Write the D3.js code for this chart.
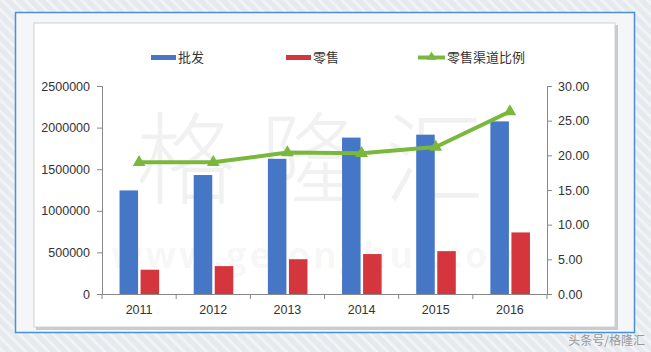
<!DOCTYPE html>
<html><head><meta charset="utf-8">
<script src="https://cdn.jsdelivr.net/npm/d3@7/dist/d3.min.js"></script>
<style>body{margin:0;background:#e8ecef;}svg{display:block;}</style>
</head><body>
<svg id="c" width="651" height="352"></svg>
<script>
const years = ["2011","2012","2013","2014","2015","2016"];
const wholesale = [1245000, 1430000, 1625000, 1880000, 1915000, 2075000];
const retail = [292000, 335000, 418000, 480000, 515000, 740000];
const ratio = [19.0, 19.0, 20.4, 20.3, 21.2, 26.3];
const leftTicks = [0, 500000, 1000000, 1500000, 2000000, 2500000];
const rightTicks = [0, 5, 10, 15, 20, 25, 30];
const seriesNames = ["批发", "零售", "零售渠道比例"];
const colors = {blue:"#4677c6", red:"#d5363d", green:"#7ab83c"};

const svg = d3.select("#c");
const defs = svg.append("defs");
const pat = defs.append("pattern").attr("id","stripes").attr("width",8).attr("height",8)
  .attr("patternUnits","userSpaceOnUse").attr("patternTransform","rotate(-45)");
pat.append("rect").attr("width",8).attr("height",8).attr("fill","#e6eaee");
pat.append("rect").attr("width",3).attr("height",8).attr("fill","#f1f4f6");
svg.append("rect").attr("width",651).attr("height",352).attr("fill","url(#stripes)");

// outer blue frame
svg.append("rect").attr("x",15.5).attr("y",12.5).attr("width",619).attr("height",320)
  .attr("fill","#f4f6f8").attr("stroke","#4a90d9").attr("stroke-width",1.5);
// white panel with shadow border
svg.append("rect").attr("x",36).attr("y",25).attr("width",582).attr("height",305).attr("fill","#c9cbcd");
svg.append("rect").attr("x",34).attr("y",23).attr("width",581).attr("height",304)
  .attr("fill","#ffffff").attr("stroke","#d0d0d0").attr("stroke-width",1);

// watermark
svg.append("text").attr("x",322).attr("y",196).attr("text-anchor","middle")
  .attr("font-family","Noto Sans CJK SC").attr("font-size",100).attr("font-weight","300")
  .attr("fill","#000").attr("fill-opacity",0.055).attr("letter-spacing",24).text("格隆汇");
svg.append("text").attr("x",320).attr("y",268).attr("text-anchor","middle")
  .attr("font-family","Open Sans, sans-serif").attr("font-size",36).attr("font-weight","bold")
  .attr("fill","#000").attr("fill-opacity",0.05).attr("letter-spacing",3).text("www.gelonghui.com");

const x = d3.scaleBand().domain(years).range([102, 547]);
const yL = d3.scaleLinear().domain([0, 2500000]).range([294, 86]);
const yR = d3.scaleLinear().domain([0, 30]).range([294, 86]);

const fontNum = "Liberation Sans, Arial, sans-serif";

// bars
const bw = x.bandwidth() * 0.25;
const g = svg.append("g");
g.selectAll(".bw").data(years).join("rect")
  .attr("x", d => x(d) + x.bandwidth()/2 - bw - 1)
  .attr("y", (d,i) => yL(wholesale[i]))
  .attr("width", bw).attr("height", (d,i) => yL(0) - yL(wholesale[i]))
  .attr("fill", colors.blue);
g.selectAll(".br").data(years).join("rect")
  .attr("x", d => x(d) + x.bandwidth()/2 + 1.5)
  .attr("y", (d,i) => yL(retail[i]))
  .attr("width", bw).attr("height", (d,i) => yL(0) - yL(retail[i]))
  .attr("fill", colors.red);

// axes
const axL = d3.axisLeft(yL).tickValues(leftTicks).tickFormat(d3.format("d")).tickSize(5).tickPadding(7);
const aL = svg.append("g").attr("transform","translate(102,0)").call(axL);
const axR = d3.axisRight(yR).tickValues(rightTicks).tickFormat(d3.format(".2f")).tickSize(5).tickPadding(6);
const aR = svg.append("g").attr("transform","translate(547,0)").call(axR);
const axB = d3.axisBottom(x).tickSize(0).tickPadding(11);
const aB = svg.append("g").attr("transform","translate(0,294)").call(axB);
// x ticks between categories
svg.append("g").selectAll("line").data(years.concat(["end"])).join("line")
  .attr("x1",(d,i)=> 102 + i*x.bandwidth()).attr("x2",(d,i)=> 102 + i*x.bandwidth())
  .attr("y1",294).attr("y2",299).attr("stroke","#888");
[aL,aR,aB].forEach(a=>{
  a.selectAll("path").attr("stroke","#888");
  a.selectAll("line").attr("stroke","#888");
  a.selectAll("text").attr("font-family",fontNum).attr("font-size",12.5).attr("fill","#333");
});

// line
const line = d3.line().x((d,i)=> x(years[i]) + x.bandwidth()/2).y(d => yR(d));
svg.append("path").datum(ratio).attr("d", line).attr("fill","none")
  .attr("stroke", colors.green).attr("stroke-width",4).attr("stroke-linejoin","round");
const tri = d3.symbol().type(d3.symbolTriangle).size(70);
svg.selectAll(".tri").data(ratio).join("path")
  .attr("transform",(d,i)=>`translate(${x(years[i]) + x.bandwidth()/2},${yR(d)})`)
  .attr("d", tri).attr("fill", colors.green);

// legend
const lg = svg.append("g").attr("font-family","Noto Sans CJK SC").attr("font-size",13).attr("fill","#333");
const legX = [151, 286, 418];
lg.append("rect").attr("x",legX[0]).attr("y",55).attr("width",25).attr("height",5).attr("fill",colors.blue);
lg.append("rect").attr("x",legX[1]).attr("y",55).attr("width",25).attr("height",5).attr("fill",colors.red);
lg.append("line").attr("x1",legX[2]).attr("x2",legX[2]+27).attr("y1",57.5).attr("y2",57.5)
  .attr("stroke",colors.green).attr("stroke-width",4);
lg.append("path").attr("transform",`translate(${legX[2]+13.5},57)`).attr("d",d3.symbol().type(d3.symbolTriangle).size(40)).attr("fill",colors.green);
seriesNames.forEach((n,i)=>{
  lg.append("text").attr("x", legX[i] + (i==2?29:27)).attr("y",62).text(n);
});

// footer credit
svg.append("text").attr("x",645).attr("y",345).attr("text-anchor","end")
  .attr("font-family","Noto Sans CJK SC").attr("font-size",12).attr("fill","#999").text("头条号/格隆汇");
</script>
</body></html>
